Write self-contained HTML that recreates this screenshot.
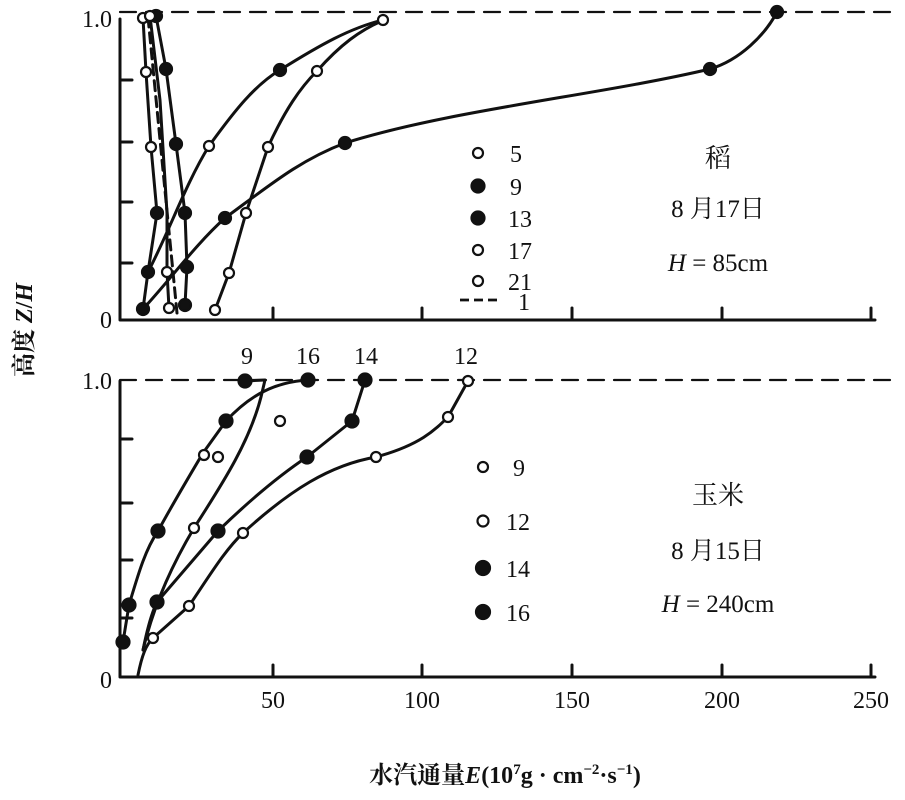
<!DOCTYPE html>
<html><head><meta charset="utf-8"><style>
html,body{margin:0;padding:0;background:#fff}
svg{display:block}
text{font-family:"Liberation Serif","Noto Serif CJK SC",serif;fill:#111}
</style></head><body>
<svg width="905" height="800" viewBox="0 0 905 800" xmlns="http://www.w3.org/2000/svg">
<g stroke="#111" stroke-width="3" fill="none" stroke-linejoin="round" stroke-linecap="round">
<path d="M120 19 V320 H875"/>
<path d="M120 80 H132 M120 142 H132 M120 202 H132 M120 263 H132"/>
<path d="M273 320 V308 M422 320 V308 M572 320 V308 M722 320 V308 M871 320 V308"/>
<path d="M120 12 H900" stroke-dasharray="16 10" stroke-width="2.2"/>
<path d="M120 381 V677 H875"/>
<path d="M120 439 H132 M120 503 H132 M120 560 H132 M120 618 H132"/>
<path d="M273 677 V665 M422 677 V665 M572 677 V665 M722 677 V665 M871 677 V665"/>
<path d="M120 380 H900" stroke-dasharray="16 10" stroke-width="2.2"/>
<polyline points="143,18 146,72 151,147 157,213 148,272 143,309"/>
<polyline points="156,16 166,69 176,144 185,213 187,267 185,305"/>
<polyline points="150,16 160,100 167,213 167,272 169,308"/>
<path d="M148,17 L177,313" stroke-dasharray="10 6"/>
<path d="M148,272 C170,230 185,185 209,146 C235,110 255,85 280,70 C320,45 350,28 383,20"/>
<path d="M143,309 C170,280 195,245 225,218 C270,185 300,160 345,143 C450,110 600,95 710,69 C740,60 765,35 777,12"/>
<path d="M215,310 L229,273 L246,213 L268,147 C285,110 300,88 317,71 C340,45 360,30 384,20"/>
<path d="M138,675 C142,655 146,645 153,638 L189,606 C210,575 225,550 243,533 C290,490 330,465 376,457 C420,445 435,430 448,417 L468,381"/>
<path d="M143,650 C148,625 152,612 157,602 L218,531 C250,500 280,475 307,457 L352,421 L365,380"/>
<path d="M123,642 L129,605 C138,575 145,550 158,531 C175,500 190,475 203,453 L226,421 C250,395 275,382 308,380"/>
<path d="M143,650 C155,600 175,560 194,528 C225,480 250,440 261,397 L265,380 L245,381"/>
</g>
<g stroke="#111" stroke-width="2.2">
<g fill="#111">
<circle cx="156" cy="16" r="6"/><circle cx="166" cy="69" r="6"/><circle cx="176" cy="144" r="6"/><circle cx="185" cy="213" r="6"/><circle cx="187" cy="267" r="6"/><circle cx="185" cy="305" r="6"/>
<circle cx="143" cy="309" r="6"/><circle cx="225" cy="218" r="6"/><circle cx="345" cy="143" r="6"/><circle cx="710" cy="69" r="6"/><circle cx="777" cy="12" r="6"/>
<circle cx="148" cy="272" r="6"/><circle cx="280" cy="70" r="6"/><circle cx="157" cy="213" r="6"/>
<circle cx="157" cy="602" r="6.5"/><circle cx="218" cy="531" r="6.5"/><circle cx="307" cy="457" r="6.5"/><circle cx="352" cy="421" r="6.5"/><circle cx="365" cy="380" r="6.5"/>
<circle cx="123" cy="642" r="6.5"/><circle cx="129" cy="605" r="6.5"/><circle cx="158" cy="531" r="6.5"/><circle cx="226" cy="421" r="6.5"/><circle cx="308" cy="380" r="6.5"/><circle cx="245" cy="381" r="6.5"/>
<circle cx="483" cy="568" r="7"/><circle cx="483" cy="612" r="7"/><circle cx="478" cy="218" r="6.5"/><circle cx="478" cy="186" r="6.5"/>
</g>
<g fill="#fff">
<circle cx="143" cy="18" r="5"/><circle cx="146" cy="72" r="5"/><circle cx="151" cy="147" r="5"/><circle cx="167" cy="272" r="5"/><circle cx="169" cy="308" r="5"/><circle cx="150" cy="16" r="5"/>
<circle cx="209" cy="146" r="5"/><circle cx="383" cy="20" r="5"/>
<circle cx="215" cy="310" r="5"/><circle cx="229" cy="273" r="5"/><circle cx="246" cy="213" r="5"/><circle cx="268" cy="147" r="5"/><circle cx="317" cy="71" r="5"/>
<circle cx="153" cy="638" r="5"/><circle cx="189" cy="606" r="5"/><circle cx="243" cy="533" r="5"/><circle cx="376" cy="457" r="5"/><circle cx="448" cy="417" r="5"/><circle cx="468" cy="381" r="5"/>
<circle cx="194" cy="528" r="5"/><circle cx="204" cy="455" r="5"/><circle cx="218" cy="457" r="5"/><circle cx="280" cy="421" r="5"/>
<circle cx="478" cy="153" r="5"/><circle cx="478" cy="250" r="5"/><circle cx="478" cy="281" r="5"/>
<circle cx="483" cy="467" r="5"/><circle cx="483" cy="521" r="5.5"/>
</g>
</g>
<path d="M460 300 H498" stroke="#111" stroke-width="2.8" stroke-dasharray="9 5"/>
<g font-size="24">
<text x="112" y="27" text-anchor="end">1.0</text>
<text x="112" y="328" text-anchor="end">0</text>
<text x="112" y="389" text-anchor="end">1.0</text>
<text x="112" y="688" text-anchor="end">0</text>
<text x="273" y="708" text-anchor="middle">50</text>
<text x="422" y="708" text-anchor="middle">100</text>
<text x="572" y="708" text-anchor="middle">150</text>
<text x="722" y="708" text-anchor="middle">200</text>
<text x="871" y="708" text-anchor="middle">250</text>
<text x="510" y="162">5</text><text x="510" y="195">9</text><text x="508" y="227">13</text><text x="508" y="259">17</text><text x="508" y="290">21</text><text x="518" y="310">1</text>
<text x="247" y="364" text-anchor="middle">9</text><text x="308" y="364" text-anchor="middle">16</text><text x="366" y="364" text-anchor="middle">14</text><text x="466" y="364" text-anchor="middle">12</text>
<text x="513" y="476">9</text><text x="506" y="530">12</text><text x="506" y="577">14</text><text x="506" y="621">16</text>
<text x="718" y="167" text-anchor="middle" font-size="26">稻</text>
<text x="718" y="217" text-anchor="middle" font-size="25">8 月17日</text>
<text x="718" y="271" text-anchor="middle" font-size="25"><tspan font-style="italic">H</tspan> = 85cm</text>
<text x="718" y="504" text-anchor="middle" font-size="26">玉米</text>
<text x="718" y="559" text-anchor="middle" font-size="25">8 月15日</text>
<text x="718" y="612" text-anchor="middle" font-size="25"><tspan font-style="italic">H</tspan> = 240cm</text>
<text x="505" y="783" text-anchor="middle" font-weight="bold">水汽通量<tspan font-style="italic">E</tspan>(10<tspan font-size="15" dy="-9">7</tspan><tspan dy="9">g · cm</tspan><tspan font-size="15" dy="-9">−2</tspan><tspan dy="9">·s</tspan><tspan font-size="15" dy="-9">−1</tspan><tspan dy="9">)</tspan></text>
<text transform="translate(32,330) rotate(-90)" text-anchor="middle" font-weight="bold">高度 <tspan font-style="italic">Z</tspan>/<tspan font-style="italic">H</tspan></text>
</g>
</svg>
</body></html>
